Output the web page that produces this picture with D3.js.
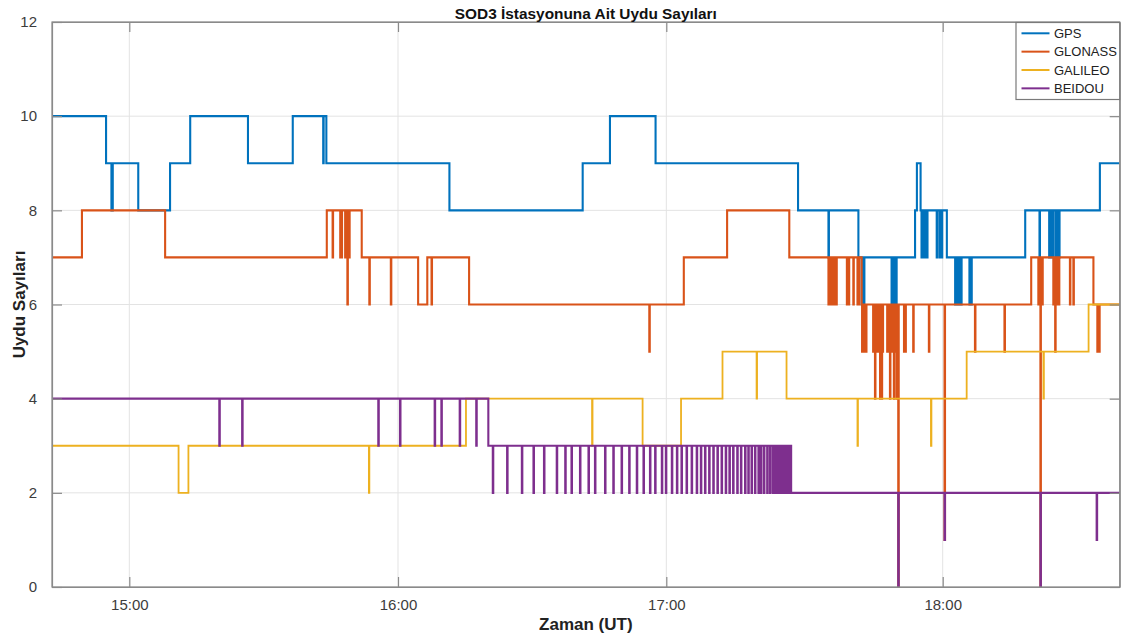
<!DOCTYPE html>
<html><head><meta charset="utf-8">
<script src="https://cdn.jsdelivr.net/npm/d3@7"></script>
<style>
body{margin:0;background:#fff;}
svg{display:block;font-family:"Liberation Sans",Arial,Helvetica,sans-serif;}
</style>
</head><body>
<svg id="chart" width="1129" height="641"></svg>
<script>
// ---- data (time = minutes of day, UT) ----
const titleText = "SOD3 İstasyonuna Ait Uydu Sayıları";
const xLabel = "Zaman (UT)";
const yLabel = "Uydu Sayıları";
const seriesNames = ["GPS", "GLONASS", "GALILEO", "BEIDOU"];
const seriesColors = ["#0072BD", "#D95319", "#EDB120", "#7E2F8E"];
const timeStart = 882.7, timeEnd = 1118.4;
const xTickTimes = [900, 960, 1020, 1080];
const xTickLabels = ["15:00", "16:00", "17:00", "18:00"];
const yTicks = [0, 2, 4, 6, 8, 10, 12];

// level changes [time, count]
const gpsSteps = [[882.7,10],[894.8,9],[902.0,8],[909.1,9],[913.6,10],[926.5,9],[936.5,10],[944.0,9],
  [971.5,8],[1001.3,9],[1007.4,10],[1017.6,9],[1048.6,8],[1061.7,7],[1074.0,8],[1074.4,9],[1075.2,8],
  [1080.9,7],[1097.9,8],[1114.1,9]];
// momentary drops [time, count]
const gpsDips = [[896.0,8],[896.2,8],[943.3,9],[1055.2,7],
  [1062.4,6],[1062.65,6],[1062.9,6],
  [1068.9,6],[1069.15,6],[1069.4,6],[1069.65,6],[1069.9,6],
  [1075.4,7],[1075.6,7],[1075.8,7],[1076.0,7],[1076.2,7],[1076.4,7],[1076.6,7],
  [1078.7,7],[1079.3,7],[1079.8,7],
  [1082.7,6],[1082.9,6],[1083.1,6],[1083.3,6],[1083.6,6],[1083.8,6],[1084.0,6],
  [1085.8,6],[1086.0,6],[1086.2,6],
  [1101.0,7],[1103.1,7],[1103.3,7],[1103.5,7],[1103.7,7],[1103.9,7],
  [1104.5,7],[1104.7,7],[1104.9,7],[1105.1,7],[1105.25,7]];

const glonassSteps = [[882.7,7],[889.4,8],[908.0,7],[944.1,8],[951.9,7],[964.5,6],[966.55,7],[975.9,6],
  [1023.8,7],[1033.2,8],[1046.7,7],[1062.4,6],[1099.2,7],[1112.7,6]];
const glonassDips = [[945.4,7],[947.1,7],[947.4,7],[948.2,7],[948.5,7],[948.7,6],[948.9,7],[949.1,7],
  [953.6,6],[958.4,6],[967.5,6],[1016.2,5],
  [1055.2,6],[1055.4,6],[1055.6,6],[1055.8,6],[1056.0,6],[1056.25,6],[1056.5,6],[1056.7,6],[1056.9,6],
  [1059.2,6],[1059.4,6],[1059.6,6],[1060.6,6],[1061.5,6],[1061.75,6],
  [1062.5,5],[1062.7,5],[1062.9,5],[1063.1,5],[1063.35,5],
  [1064.9,5],[1065.1,5],[1065.3,4],[1065.6,5],[1065.85,5],[1066.05,5],[1066.25,5],[1066.4,4],[1066.6,5],[1066.75,4],[1066.95,5],
  [1067.95,5],[1068.2,5],[1068.4,5],[1068.55,4],[1068.75,5],[1068.95,5],[1069.1,5],[1069.4,4],[1069.6,5],[1069.8,5],[1070.0,4],
  [1070.35,0],[1071.6,5],[1071.9,5],[1073.6,5],[1077.0,5],[1080.4,1],[1087.0,5],[1093.4,5],
  [1100.75,6],[1101.2,0],[1101.45,6],[1101.6,6],
  [1104.0,6],[1104.2,6],[1104.4,5],[1104.6,6],[1104.8,6],[1105.0,6],[1105.2,6],
  [1107.6,6],[1108.35,6],[1113.55,5],[1113.75,5],[1113.95,5]];

const galileoSteps = [[882.7,3],[911.0,2],[913.2,3],[975.2,4],[1014.7,3],[1023.2,4],[1032.2,5],
  [1046.1,4],[1085.2,5],[1111.65,6]];
const galileoDips = [[953.5,2],[1003.4,3],[1039.6,4],[1061.5,3],[1077.45,3],[1101.85,4]];

const beidouSteps = [[882.7,4],[980.2,3],[1047.1,2]];
const beidouDips = [[920.1,3],[925.2,3],[955.6,3],[960.45,3],[968.2,3],[969.7,3],[973.8,3],[977.5,3],
  [981.2,2],[984.4,2],[987.7,2],[990.3,2],[992.65,2],[995.5,2],[997.4,2],[998.8,2],[1000.7,2],[1002.6,2],
  [1004.05,2],[1006.3,2],[1008.15,2],[1010.0,2],[1011.7,2],[1013.4,2],[1014.9,2],[1016.35,2],[1017.5,2],
  [1019.0,2],[1019.9,2],[1021.2,2],[1022.3,2],[1023.3,2],[1024.4,2],[1025.5,2],[1026.6,2],[1027.5,2],
  [1028.4,2],[1029.3,2],[1030.2,2],[1031.1,2],[1032.0,2],[1032.9,2],[1033.7,2],[1034.5,2],[1035.4,2],
  [1036.2,2],[1037.1,2],[1037.8,2],[1038.5,2],[1039.25,2],[1040.0,2],[1040.55,2],[1041.2,2],[1041.9,2],
  [1042.5,2],[1043.1,2],[1043.65,2],[1044.2,2],[1044.7,2],[1045.1,2],[1045.55,2],[1046.0,2],[1046.4,2],
  [1046.7,2],
  [1070.35,0],[1080.4,1],[1101.2,0],[1113.4,1]];

const seriesSteps = [gpsSteps, glonassSteps, galileoSteps, beidouSteps];
const seriesDips = [gpsDips, glonassDips, galileoDips, beidouDips];

// ---- layout ----
const svg = d3.select("#chart");
const L = 52, T = 22, R = 1119.7, B = 587;
const x = d3.scaleLinear()
  .domain([timeStart, 900, 960, 1020, 1080, timeEnd])
  .range([L, 129.3, 398, 666.3, 942.7, R]);
const y = d3.scaleLinear().domain([0, 12]).range([B, T]);
const DIP = 0.1;

function build(steps, dips) {
  const base = t => { let v = steps[0][1]; for (const s of steps) if (s[0] <= t) v = s[1]; return v; };
  const pts = steps.map(d => ({t: d[0], v: d[1]}));
  dips.forEach(([t, v]) => { pts.push({t, v}); pts.push({t: t + DIP, v: base(t)}); });
  pts.sort((a, b) => a.t - b.t);
  pts.push({t: timeEnd, v: base(timeEnd)});
  return pts;
}

// grid
const grid = svg.append("g").attr("stroke", "#e3e3e3").attr("stroke-width", 1);
xTickTimes.forEach(t => grid.append("line").attr("x1", x(t)).attr("x2", x(t)).attr("y1", T).attr("y2", B));
yTicks.forEach(v => grid.append("line").attr("x1", L).attr("x2", R).attr("y1", y(v)).attr("y2", y(v)));

// clip
svg.append("clipPath").attr("id", "clip").append("rect")
  .attr("x", L).attr("y", T - 2).attr("width", R - L).attr("height", B - T + 3);

const line = d3.line().x(d => x(d.t)).y(d => y(d.v)).curve(d3.curveStepAfter);
const lines = svg.append("g").attr("clip-path", "url(#clip)");
seriesNames.forEach((name, i) => {
  lines.append("path")
    .datum(build(seriesSteps[i], seriesDips[i]))
    .attr("fill", "none")
    .attr("stroke", seriesColors[i])
    .attr("stroke-width", i === 2 ? 1.8 : 2.1)
    .attr("stroke-linejoin", "miter")
    .attr("d", line);
});

// axes box
const axisColor = "#8a8a8a";
svg.append("rect").attr("x", L).attr("y", T).attr("width", R - L).attr("height", B - T)
  .attr("fill", "none").attr("stroke", axisColor).attr("stroke-width", 1.2);

// bottom/top axes with inward ticks
const xAxisB = d3.axisBottom(x).tickValues(xTickTimes).tickFormat((d, i) => xTickLabels[i])
  .tickSizeInner(-10).tickSizeOuter(0).tickPadding(12);
const gxb = svg.append("g").attr("transform", `translate(0,${B})`).call(xAxisB);
const xAxisT = d3.axisTop(x).tickValues(xTickTimes).tickFormat("").tickSizeInner(-10).tickSizeOuter(0);
const gxt = svg.append("g").attr("transform", `translate(0,${T})`).call(xAxisT);
const yAxisL = d3.axisLeft(y).tickValues(yTicks).tickFormat(d3.format("d"))
  .tickSizeInner(-10).tickSizeOuter(0).tickPadding(15);
const gyl = svg.append("g").attr("transform", `translate(${L},0)`).call(yAxisL);
const yAxisR = d3.axisRight(y).tickValues(yTicks).tickFormat("").tickSizeInner(-10).tickSizeOuter(0);
const gyr = svg.append("g").attr("transform", `translate(${R},0)`).call(yAxisR);
[gxb, gxt, gyl, gyr].forEach(g => {
  g.select(".domain").attr("stroke", axisColor).attr("stroke-width", 1.2);
  g.selectAll(".tick line").attr("stroke", axisColor).attr("stroke-width", 1.2);
  g.selectAll(".tick text").attr("fill", "#3c3c3c").style("font-size", "15px")
    .style("font-family", '"Liberation Sans",Arial,sans-serif');
});

// labels
svg.append("text").attr("x", (L + R) / 2).attr("y", 18.5).attr("text-anchor", "middle")
  .style("font-size", "15.4px").style("font-weight", "bold").attr("fill", "#111").text(titleText);
svg.append("text").attr("x", (L + R) / 2).attr("y", 629.5).attr("text-anchor", "middle")
  .style("font-size", "17px").style("font-weight", "bold").attr("fill", "#222").text(xLabel);
svg.append("text").attr("transform", `translate(25,${(T + B) / 2}) rotate(-90)`).attr("text-anchor", "middle")
  .style("font-size", "17px").style("font-weight", "bold").attr("fill", "#222").text(yLabel);

// legend
const lg = svg.append("g");
const lgX = 1016, lgY = 22.5, lgW = R - 1016, lgH = 77;
lg.append("rect").attr("x", lgX).attr("y", lgY).attr("width", lgW).attr("height", lgH)
  .attr("fill", "#fff").attr("stroke", "#7a7a7a").attr("stroke-width", 1.2);
seriesNames.forEach((name, i) => {
  const cy = 33.3 + i * 18.35;
  lg.append("line").attr("x1", 1021.5).attr("x2", 1049.5).attr("y1", cy).attr("y2", cy)
    .attr("stroke", seriesColors[i]).attr("stroke-width", 2);
  lg.append("text").attr("x", 1054).attr("y", cy).attr("dy", "0.36em")
    .style("font-size", "13px").attr("fill", "#222").text(name);
});
</script>
</body></html>
